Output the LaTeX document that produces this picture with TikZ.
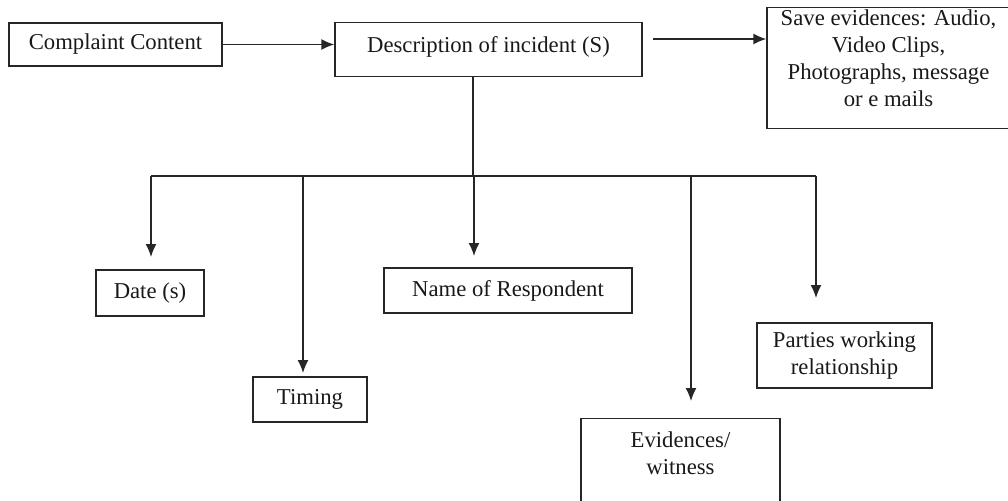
\documentclass[tikz,border=0pt]{standalone}
\usepackage{fontspec}
\setmainfont{Liberation Serif}
\usetikzlibrary{arrows.meta}
\newcommand{\toplines}[1]{\begin{tabular}[t]{@{}c@{}}#1\end{tabular}}
\begin{document}
\begin{tikzpicture}[x=1pt,y=-1pt,
  every node/.style={font=\fontsize{22.7}{27}\selectfont, text=black!90},
  box/.style={draw=black!85, line width=1.4pt, inner sep=0pt, align=center},
  link/.style={draw=black!85, line width=1.4pt},
  arr/.style={link, -{Latex[length=13pt,width=11pt]}}]
  \useasboundingbox (0,0) rectangle (1008,500);

  % top row
  \node[box, minimum width=213pt, minimum height=43pt] (cc) at (115.5,44.5) {Complaint Content};
  \node[box, anchor=north, minimum width=307pt, text height=30pt, text depth=24pt] (desc) at (488.5,22) {Description of incident (S)};
  \node[box, anchor=north, minimum width=243pt, text height=18pt, text depth=103pt] (save) at (888.5,7)
    {\toplines{Save evidences: Audio,\\Video Clips,\\Photographs, message\\or e mails}};

  % details of the incident
  \node[box, minimum width=108pt, minimum height=46pt] (date) at (150,293) {Date (s)};
  \node[box, minimum width=114pt, minimum height=45pt] (timing) at (310,399.5) {Timing};
  \node[box, minimum width=248pt, minimum height=45pt] (resp) at (508,290.5) {Name of Respondent};
  \node[box, anchor=north, minimum width=199pt, text height=29pt, text depth=100pt] (evid) at (680.5,418)
    {\toplines{Evidences/\\witness}};
  \node[box, minimum width=175pt, minimum height=65pt] (parties) at (844.5,355.5) {Parties working\\relationship};

  % top row arrows
  \draw[arr] (cc.east) -- (cc.east -| desc.west);
  \coordinate (s2) at (653,39);
  \draw[arr] (s2) -- (s2 -| save.west);

  % branching bus
  \coordinate (hub) at (473,176);
  \coordinate (busL) at (151,176);
  \coordinate (busR) at (816,176);
  \draw[link] (desc.south -| hub) -- (hub);
  \draw[link] (busL) -- (busR);

  % arrow ends above each box
  \coordinate (tDate) at (151,257);
  \coordinate (tTiming) at (303,373);
  \coordinate (tResp) at (474,256);
  \coordinate (tEvid) at (691,401);
  \coordinate (tParties) at (816,298);
  \draw[arr] (tDate |- hub) -- (tDate);
  \draw[arr] (tTiming |- hub) -- (tTiming);
  \draw[arr] (tResp |- hub) -- (tResp);
  \draw[arr] (tEvid |- hub) -- (tEvid);
  \draw[arr] (tParties |- hub) -- (tParties);
\end{tikzpicture}
\end{document}
